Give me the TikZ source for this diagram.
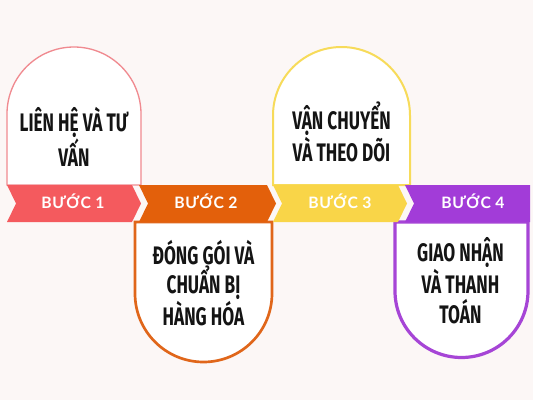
\documentclass[tikz,border=0pt]{standalone}
\usepackage{fontspec}
\setmainfont{Fira Sans}[FakeStretch=0.68]
\newfontfamily\bannerfont{Lato}[LetterSpace=4]
\definecolor{bgpink}{HTML}{FCF7F6}
\definecolor{redstep}{HTML}{F45A5E}
\definecolor{orangestep}{HTML}{E3600B}
\definecolor{yellowstep}{HTML}{F9D548}
\definecolor{purplestep}{HTML}{A23CD8}
\definecolor{redline}{HTML}{F08A90}
\definecolor{orangeline}{HTML}{E0661A}
\definecolor{yellowline}{HTML}{F7DB5A}
\definecolor{purpleline}{HTML}{A645D6}

\begin{document}
\begin{tikzpicture}[x=0.75pt,y=-0.75pt,
    card/.style={fill=white, line width=#1},
    steptext/.style={font=\bannerfont\bfseries\fontsize{11.8}{13}\selectfont, text=white, anchor=base},
    cardtext/.style={font=\bfseries\fontsize{19}{21}\selectfont, align=center, text=black!92}]
  % background and size
  \fill[bgpink] (0,0) rectangle (533,400);
  \useasboundingbox (0,0) rectangle (533,400);

  % draw the cards (arches up for 1 and 3, down for 2 and 4)
  \draw[card=1pt, draw=redline] (7,185) -- (7,114) arc[start angle=180, end angle=360, radius=67] -- (141,185) -- cycle;
  \draw[card=1.5pt, draw=yellowline] (273,185) -- (273,115.5) arc[start angle=180, end angle=360, radius=68.5] -- (410,185) -- cycle;
  \draw[card=2pt, draw=orangeline] (135,222) -- (135,293.5) arc[start angle=180, end angle=0, radius=68.5] -- (272,222) -- cycle;
  \draw[card=2.4pt, draw=purpleline] (395,222) -- (395,291) arc[start angle=180, end angle=0, radius=66.5] -- (528,222) -- cycle;

  % draw the banners
  \fill[redstep] (7,185) -- (132,185) -- (141,203.5) -- (132,222) -- (7,222) -- (16,203.5) -- cycle;
  \fill[orangestep] (139,185) -- (267,185) -- (276,203.5) -- (267,222) -- (139,222) -- (148,203.5) -- cycle;
  \fill[yellowstep] (273,185) -- (398,185) -- (407,203.5) -- (398,222) -- (273,222) -- (282,203.5) -- cycle;
  \fill[purplestep] (405,185) -- (530,185) -- (530,222) -- (405,222) -- (414,203.5) -- cycle;

  % banner labels
  \node[steptext] (step1) at (73,208) {BƯỚC 1};
  \node[steptext] (step2) at (206,208) {BƯỚC 2};
  \node[steptext] (step3) at (340,208) {BƯỚC 3};
  \node[steptext] (step4) at (473,208) {BƯỚC 4};

  % card texts
  \node[cardtext] (contact) at (74,137) {LIÊN HỆ VÀ TƯ\\VẤN};
  \node[cardtext] (packing) at (203.5,283) {ĐÓNG GÓI VÀ\\CHUẨN BỊ\\HÀNG HÓA};
  \node[cardtext] (shipping) at (341.5,132) {VẬN CHUYỂN\\VÀ THEO DÕI};
  \node[cardtext, font=\bfseries\fontsize{19}{22.5}\selectfont] (delivery) at (460.5,281) {GIAO NHẬN\\VÀ THANH\\TOÁN};
\end{tikzpicture}
\end{document}
